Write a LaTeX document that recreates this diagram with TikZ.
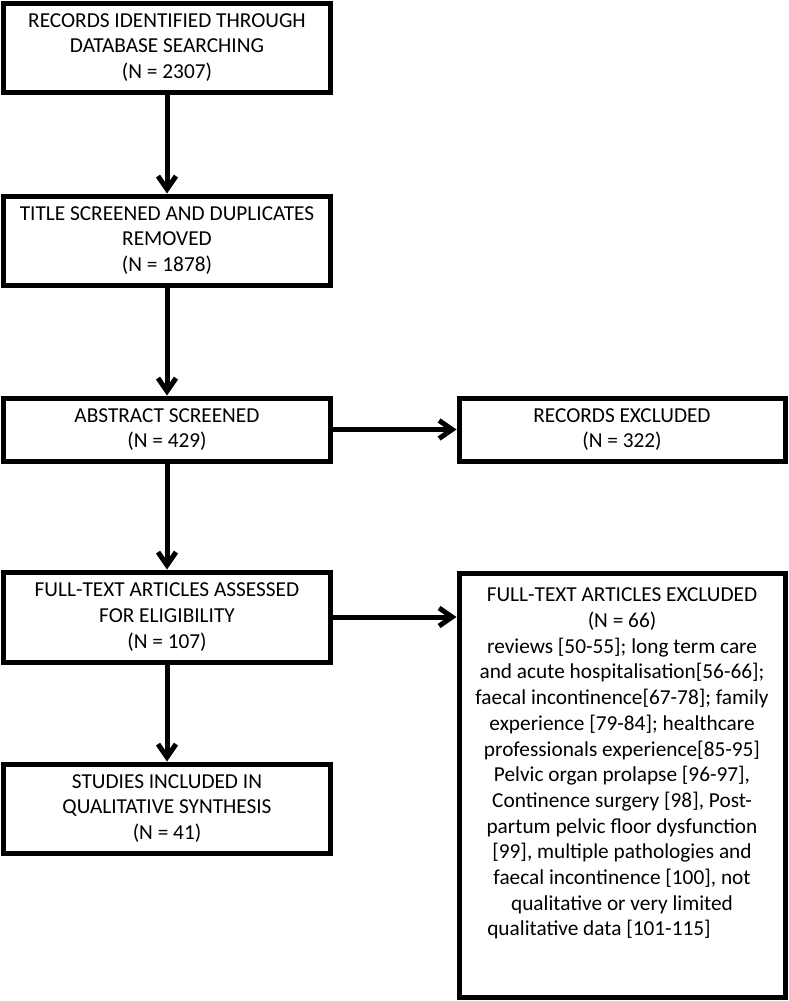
\documentclass[tikz,border=0pt]{standalone}
\usepackage{fontspec}
\setmainfont{Carlito}
\usetikzlibrary{arrows.meta}

\begin{document}
\begin{tikzpicture}[x=1pt,y=-1pt,
    every node/.style={draw, line width=5pt, align=center, inner sep=0pt, font=\fontsize{21.3}{25.7}\selectfont},
    arr/.style={line width=5pt, -{Straight Barb[length=13pt,width=18pt]}}]
    \useasboundingbox (0,0) rectangle (789,1001);

    \node[minimum width=327pt, minimum height=89pt] (records) at (167,47.5) {RECORDS IDENTIFIED THROUGH\\DATABASE SEARCHING\\(N = 2307)};
    \node[minimum width=327pt, minimum height=89pt] (title) at (167,240.5) {TITLE SCREENED AND DUPLICATES\\REMOVED\\(N = 1878)};
    \node[minimum width=327pt, minimum height=63pt] (abstract) at (167,429.5) {ABSTRACT SCREENED\\(N = 429)};
    \node[minimum width=326pt, minimum height=63pt] (excluded) at (622,429.5) {RECORDS EXCLUDED\\(N = 322)};
    \node[minimum width=327pt, minimum height=90pt] (fulltext) at (167,617) {FULL-TEXT ARTICLES ASSESSED\\FOR ELIGIBILITY\\(N = 107)};
    \node[minimum width=326pt, minimum height=424pt] (ftexcluded) at (622,785) {\parbox[c][394pt][t]{322pt}{\centering
        FULL-TEXT ARTICLES EXCLUDED\\
        (N = 66)\\
        reviews [50-55]; long term care\hspace*{28pt}\\
        and acute hospitalisation[56-66];\\
        faecal incontinence[67-78]; family\\
        experience [79-84]; healthcare\hspace*{12pt}\\
        professionals experience[85-95]\\
        Pelvic organ prolapse [96-97],\hspace*{16pt}\\
        Continence surgery [98], Post-\hspace*{36pt}\\
        partum pelvic floor dysfunction\\
        {}[99], multiple pathologies and\hspace*{10pt}\\
        faecal incontinence [100], not\\
        qualitative or very limited\\
        qualitative data [101-115]\hspace*{46pt}}};
    \node[minimum width=327pt, minimum height=89pt] (included) at (167,808.5) {STUDIES INCLUDED IN\\QUALITATIVE SYNTHESIS\\(N = 41)};

    \draw[arr] (records) -- (title);
    \draw[arr] (title) -- (abstract);
    \draw[arr] (abstract) -- (excluded);
    \draw[arr] (abstract) -- (fulltext);
    \draw[arr] (fulltext.east) -- (fulltext.east -| ftexcluded.west);
    \draw[arr] (fulltext) -- (included);
\end{tikzpicture}
\end{document}
